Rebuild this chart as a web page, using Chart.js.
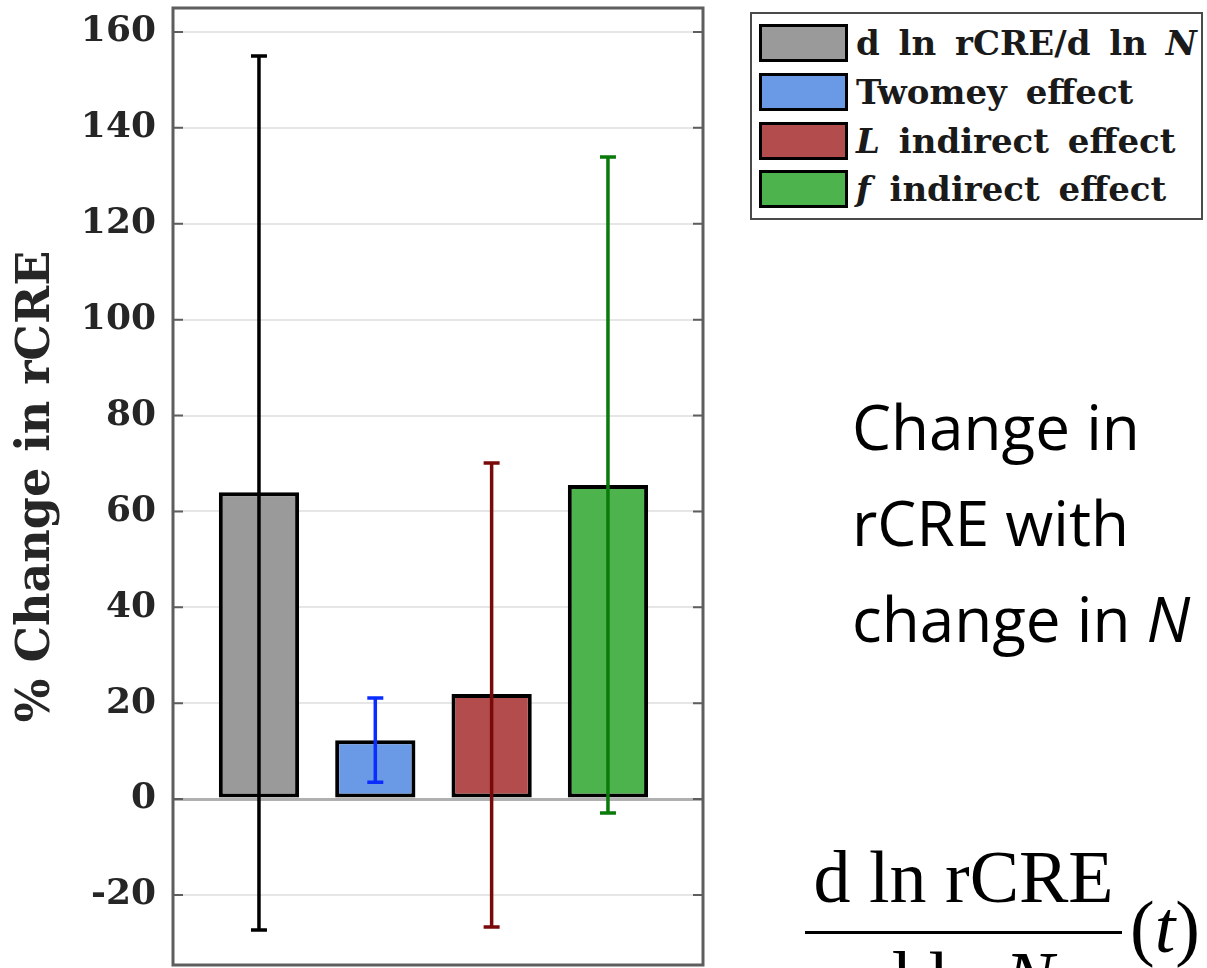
<!DOCTYPE html>
<html>
<head>
<meta charset="utf-8">
<script src="https://cdn.jsdelivr.net/npm/chart.js@4.4.1/dist/chart.umd.min.js"></script>
<style>
  html, body { margin: 0; padding: 0; background: #fff; overflow: hidden; }
  #page { position: relative; width: 1207px; height: 968px; overflow: hidden; background: #fff; }
  #chart { position: absolute; left: 0; top: 0; }
  .legend {
    position: absolute; left: 750px; top: 12px; width: 453px; height: 208px;
    border: 2px solid #4a4a4a; box-sizing: border-box; background: #fff;
  }
  .legend .row { position: absolute; left: 7px; height: 38px; display: flex; align-items: center; }
  .legend .swatch { width: 89px; height: 38px; border: 3px solid #000; box-sizing: border-box; margin-right: 8px; }
  .legend .label { font: bold 34px "DejaVu Serif"; color: #1a1a1a; line-height: 38px; white-space: nowrap; word-spacing: 7px; }
  .note { position: absolute; left: 852px; top: 378px; font: 62px "Open Sans"; line-height: 96px; color: #000; white-space: nowrap; }
  .formula { position: absolute; font: 74px "Liberation Serif"; line-height: 74px; color: #000; white-space: nowrap; }
  .fracbar { position: absolute; left: 805px; top: 931px; width: 317px; height: 3px; background: #000; }
</style>
</head>
<body>
<div id="page">
  <canvas id="chart" width="720" height="968"></canvas>
  <div class="legend" id="legend"></div>
  <div class="note">Change in<br>rCRE with<br>change in <i>N</i></div>
  <div class="formula" style="left:805px; width:317px; text-align:center; top:840px;">d ln rCRE</div>
  <div class="fracbar"></div>
  <div class="formula" style="left:805px; width:317px; text-align:center; top:941px;">d ln <i>N</i></div>
  <div class="formula" style="left:1130px; top:890px;">(<i>t</i>)</div>
</div>
<script>
// 막대 값과 오차 범위
const categories = ["d ln rCRE/d ln N", "Twomey effect", "L indirect effect", "f indirect effect"];
const legendHtml = ["d ln rCRE/d ln <i>N</i>", "Twomey effect", "<i>L</i> indirect effect", "<i>f</i> indirect effect"];
const xPositions = [1, 2, 3, 4];
const barValues = [64.0, 12.3, 21.9, 65.5];
const errUpper = [155.0, 21.1, 70.1, 133.9];
const errLower = [-27.3, 3.5, -26.7, -2.9];
const yTicks = [-20, 0, 20, 40, 60, 80, 100, 120, 140, 160];
const barColors = ["#9a9a9a", "#6a9ae6", "#b34c4c", "#4db34d"];
const errColors = ["#000000", "#0a2cff", "#7a0a0a", "#0a7a0a"];

// 범례
const legendEl = document.getElementById("legend");
const rowTops = [10, 59, 108, 156];
categories.forEach((name, i) => {
  const row = document.createElement("div");
  row.className = "row";
  row.style.top = rowTops[i] + "px";
  row.innerHTML = `<div class="swatch" style="background:${barColors[i]}"></div><div class="label">${legendHtml[i]}</div>`;
  legendEl.appendChild(row);
});

// 오차 막대
const errorBars = {
  id: "errorBars",
  afterDatasetsDraw(chart) {
    const { ctx, scales: { x, y } } = chart;
    ctx.save();
    ctx.lineWidth = 3.5;
    for (let i = 0; i < xPositions.length; i++) {
      const px = x.getPixelForValue(xPositions[i]);
      const top = y.getPixelForValue(errUpper[i]);
      const bot = y.getPixelForValue(errLower[i]);
      ctx.strokeStyle = errColors[i];
      ctx.beginPath();
      ctx.moveTo(px, top); ctx.lineTo(px, bot);
      ctx.moveTo(px - 8, top); ctx.lineTo(px + 8, top);
      ctx.moveTo(px - 8, bot); ctx.lineTo(px + 8, bot);
      ctx.stroke();
    }
    ctx.restore();
  },
};

// 테두리와 안쪽 눈금
const frame = {
  id: "frame",
  afterDraw(chart) {
    const { ctx, chartArea: a, scales: { y } } = chart;
    ctx.save();
    ctx.strokeStyle = "#5e5e5e";
    ctx.lineWidth = 2;
    y.ticks.forEach((t) => {
      const py = y.getPixelForValue(t.value);
      ctx.beginPath();
      ctx.moveTo(a.left, py); ctx.lineTo(a.left + 10, py);
      ctx.moveTo(a.right, py); ctx.lineTo(a.right - 10, py);
      ctx.stroke();
    });
    ctx.lineWidth = 3;
    ctx.strokeRect(a.left, a.top, a.right - a.left, a.bottom - a.top);
    ctx.restore();
  },
};

new Chart(document.getElementById("chart"), {
  type: "bar",
  data: {
    datasets: [
      {
        data: xPositions.map((v, i) => ({ x: v, y: barValues[i] })),
        backgroundColor: barColors,
        borderColor: "#000",
        borderWidth: 4,
        borderSkipped: false,
        barPercentage: 0.69,
        categoryPercentage: 1,
      },
    ],
  },
  options: {
    responsive: false,
    animation: false,
    devicePixelRatio: 1,
    layout: { padding: { top: 8, bottom: 3, right: 17, left: 0 } },
    plugins: { legend: { display: false }, tooltip: { enabled: false } },
    scales: {
      x: {
        type: "linear",
        min: 0.261,
        max: 4.817,
        offset: false,
        display: false,
        afterBuildTicks: (s) => { s.ticks = xPositions.map((v) => ({ value: v })); },
      },
      y: {
        min: -34.6,
        max: 165,
        afterBuildTicks: (s) => { s.ticks = yTicks.map((v) => ({ value: v })); },
        afterFit: (s) => { s.width = 173; s.paddingTop = 0; s.paddingBottom = 0; },
        grid: {
          drawTicks: false,
          color: (c) => (c.tick && c.tick.value === 0 ? "#b0b0b0" : "#e6e6e6"),
          lineWidth: (c) => (c.tick && c.tick.value === 0 ? 3 : 2),
        },
        border: { display: false },
        ticks: { padding: 17, color: "#262626", font: { family: "DejaVu Serif", weight: "bold", size: 36 } },
        title: {
          display: true,
          text: "% Change in rCRE",
          color: "#262626",
          padding: { top: 9, bottom: 0 },
          font: { family: "DejaVu Serif", weight: "bold", size: 46 },
        },
      },
    },
  },
  plugins: [errorBars, frame],
});
</script>
</body>
</html>
